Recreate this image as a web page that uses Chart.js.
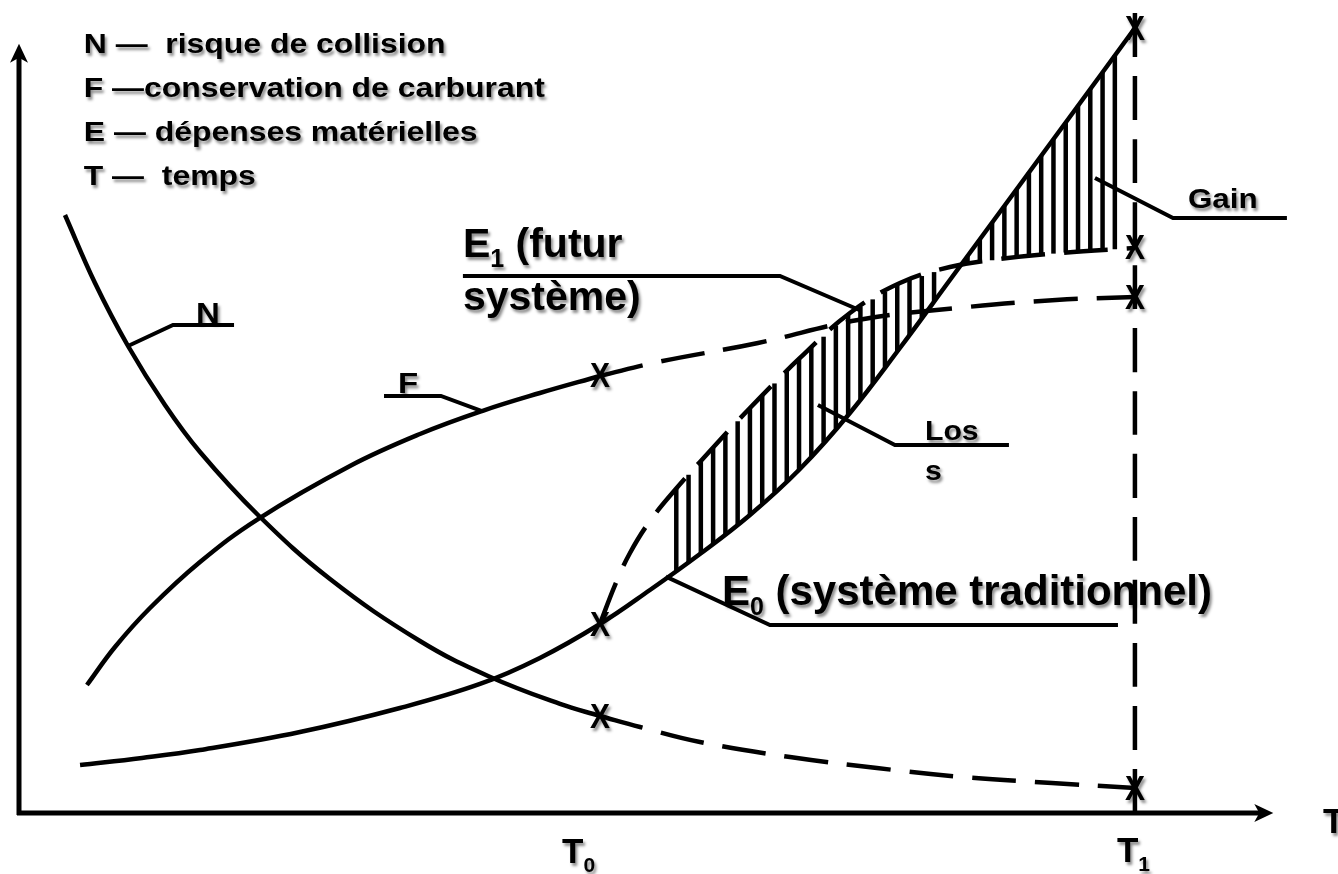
<!DOCTYPE html>
<html lang="fr">
<head>
<meta charset="utf-8">
<title>Risque, carburant, dépenses</title>
<script src="https://cdn.jsdelivr.net/npm/chart.js@4/dist/chart.umd.min.js"></script>
<style>
  html, body { margin: 0; padding: 0; background: #fff; }
  #wrap { width: 1338px; height: 874px; }
</style>
</head>
<body>
<div id="wrap"><canvas id="chart" width="1338" height="874"></canvas></div>
<script>
"use strict";

// temps (axe T) : T0 et T1
const T0 = 52.06;
const T1 = 100;

// N - risque de collision
const nSolidX = [4.12, 6.81, 9.77, 13.08, 16.22, 21.42, 27.87, 35.93, 42.03, 48.48, 52.06];
const nSolidY = [75.41, 66.83, 58.89, 51.45, 45.52, 37.58, 29.51, 21.69, 17.28, 13.75, 12.23];
const nDashX = [52.06, 55.65, 61.02, 69.09, 76.88, 84.50, 92.56, 100];
const nDashY = [12.23, 10.84, 8.95, 7.06, 5.67, 4.54, 3.78, 3.15];

// F - conservation de carburant
const fSolidX = [6.09, 8.60, 11.74, 16.22, 21.42, 29.66, 35.93, 41.49, 46.68, 52.06];
const fSolidY = [16.14, 20.93, 25.85, 31.65, 37.07, 43.76, 47.79, 50.69, 52.96, 55.11];
const fDashX = [52.06, 57.35, 66.22, 75.18, 84.05, 92.92, 100];
const fDashY = [55.11, 56.90, 59.27, 62.17, 63.68, 64.69, 65.07];

// E0 - système traditionnel
const e0X = [5.47, 11.02, 16.22, 25.18, 34.14, 41.31, 46.68, 52.06, 56.54, 61.02, 65.50, 69.98, 74.46, 78.94, 83.42, 87.90, 92.38, 96.86, 100];
const e0Y = [6.05, 6.94, 7.94, 10.21, 13.24, 16.27, 19.55, 23.83, 28.12, 32.66, 37.58, 43.38, 50.44, 58.64, 67.21, 75.79, 84.36, 92.94, 98.99];

// E1 - futur système
const e1X = [52.06, 53.41, 54.75, 56.54, 58.78, 61.02, 65.50, 69.98, 74.46, 78.94, 83.42, 87.90, 93.28, 100];
const e1Y = [23.83, 28.75, 32.79, 36.82, 40.73, 44.26, 51.07, 57.38, 63.05, 66.83, 68.85, 69.86, 70.62, 71.25];

// repères X sur T0 et T1
const markX = [T0, T0, T0, T1, T1, T1, T1];
const markY = [55.11, 23.83, 12.23, 98.99, 71.25, 65.07, 3.15];

// zones hachurées (perte puis gain)
const lossRange = [58.9, 83.0];
const gainRange = [85.0, 99.0];

const legendLines = [
    "N \u2014  risque de collision",
    "F \u2014conservation de carburant",
    "E \u2014 dépenses matérielles",
    "T \u2014  temps"
];

const FONT = '"Liberation Sans", Arial, sans-serif';

function pts(xs, ys) {
    return xs.map((x, i) => ({ x: x, y: ys[i] }));
}

function interp(xs, ys, x) {
    for (let i = 0; i < xs.length - 1; i++) {
        if (x >= xs[i] && x <= xs[i + 1]) {
            const t = (x - xs[i]) / (xs[i + 1] - xs[i]);
            return ys[i] + t * (ys[i + 1] - ys[i]);
        }
    }
    return ys[ys.length - 1];
}

// texte gras avec ombre, parties en indice possibles
function drawText(ctx, parts, px, py, size, sx) {
    ctx.save();
    ctx.translate(px, py);
    ctx.scale(sx, 1);
    ctx.fillStyle = "#000";
    ctx.textAlign = "left";
    ctx.textBaseline = "alphabetic";
    ctx.shadowColor = "rgba(0,0,0,0.45)";
    ctx.shadowOffsetX = 2;
    ctx.shadowOffsetY = 3;
    ctx.shadowBlur = 3;
    let x = 0;
    parts.forEach(p => {
        const fs = p.sub ? Math.round(size * 0.6) : size;
        ctx.font = "bold " + fs + "px " + FONT;
        ctx.fillText(p.t, x, p.sub ? size * 0.25 : 0);
        x += ctx.measureText(p.t).width;
    });
    ctx.restore();
}

const diagram = {
    id: "diagram",
    beforeDatasetsDraw(chart) {
        const ctx = chart.ctx;
        const xs = chart.scales.x, ys = chart.scales.y;
        ctx.save();
        ctx.strokeStyle = "#000";
        ctx.lineWidth = 4.5;
        [lossRange, gainRange].forEach(r => {
            for (let x = r[0]; x <= r[1] + 0.01; x += 1.1) {
                const px = xs.getPixelForValue(x);
                ctx.beginPath();
                ctx.moveTo(px, ys.getPixelForValue(interp(e0X, e0Y, x)));
                ctx.lineTo(px, ys.getPixelForValue(interp(e1X, e1Y, x)));
                ctx.stroke();
            }
        });
        ctx.restore();
    },
    afterDatasetsDraw(chart) {
        const ctx = chart.ctx;
        const xs = chart.scales.x, ys = chart.scales.y;
        const X = v => xs.getPixelForValue(v);
        const Y = v => ys.getPixelForValue(v);

        ctx.save();
        ctx.strokeStyle = "#000";
        ctx.fillStyle = "#000";

        // axes
        const ox = X(0), oy = Y(0);
        const tipY = Y(97), tipX = X(112.4);
        ctx.lineWidth = 5;
        ctx.beginPath();
        ctx.moveTo(ox, oy + 2);
        ctx.lineTo(ox, tipY + 10);
        ctx.moveTo(ox - 2, oy);
        ctx.lineTo(tipX - 10, oy);
        ctx.stroke();
        ctx.beginPath();
        ctx.moveTo(ox, tipY);
        ctx.lineTo(ox - 9, tipY + 19);
        ctx.lineTo(ox, tipY + 14);
        ctx.lineTo(ox + 9, tipY + 19);
        ctx.closePath();
        ctx.fill();
        ctx.beginPath();
        ctx.moveTo(tipX, oy);
        ctx.lineTo(tipX - 19, oy - 9);
        ctx.lineTo(tipX - 14, oy);
        ctx.lineTo(tipX - 19, oy + 9);
        ctx.closePath();
        ctx.fill();

        // lignes de rappel
        const leaders = [
            [[9.77, 58.89], [13.80, 61.54], [19.27, 61.54]],
            [[41.49, 50.69], [37.81, 52.59], [32.71, 52.59]],
            [[75.36, 63.4], [68.19, 67.72], [39.78, 67.72]],
            [[71.59, 51.45], [78.49, 46.41], [88.71, 46.41]],
            [[96.42, 80.08], [103.41, 75.03], [113.62, 75.03]],
            [[57.97, 29.80], [67.29, 23.71], [98.48, 23.71]]
        ];
        ctx.lineWidth = 4;
        leaders.forEach(l => {
            ctx.beginPath();
            l.forEach((p, i) => i ? ctx.lineTo(X(p[0]), Y(p[1])) : ctx.moveTo(X(p[0]), Y(p[1])));
            ctx.stroke();
        });
        ctx.restore();

        // légende
        legendLines.forEach((t, i) => {
            drawText(ctx, [{ t: t }], X(5.8), Y(95.8 - i * 5.55), 28, 1.14);
        });

        // étiquettes
        const labels = [
            { p: [{ t: "N" }], x: 15.86, y: 61.79, s: 30, sx: 1.1 },
            { p: [{ t: "F" }], x: 33.96, y: 52.96, s: 30, sx: 1.1 },
            { p: [{ t: "E" }, { t: "1", sub: true }, { t: " (futur" }], x: 39.78, y: 70.11, s: 41, sx: 1 },
            { p: [{ t: "système)" }], x: 39.78, y: 63.43, s: 41, sx: 1 },
            { p: [{ t: "E" }, { t: "0", sub: true }, { t: " (système traditionnel)" }], x: 62.99, y: 26.23, s: 42, sx: 1 },
            { p: [{ t: "Los" }], x: 81.18, y: 47.04, s: 28, sx: 1.08 },
            { p: [{ t: "s" }], x: 81.18, y: 41.99, s: 28, sx: 1.08 },
            { p: [{ t: "Gain" }], x: 104.75, y: 76.29, s: 28, sx: 1.12 },
            { p: [{ t: "T" }, { t: "0", sub: true }], x: 48.66, y: -6.31, s: 35, sx: 1 },
            { p: [{ t: "T" }, { t: "1", sub: true }], x: 98.39, y: -6.18, s: 35, sx: 1 },
            { p: [{ t: "T" }], x: 116.85, y: -2.52, s: 35, sx: 1 }
        ];
        labels.forEach(l => drawText(ctx, l.p, X(l.x), Y(l.y), l.s, l.sx));

        // repères X
        ctx.save();
        ctx.fillStyle = "#000";
        ctx.textAlign = "center";
        ctx.textBaseline = "middle";
        ctx.font = "bold 30px " + FONT;
        ctx.shadowColor = "rgba(0,0,0,0.45)";
        ctx.shadowOffsetX = 2;
        ctx.shadowOffsetY = 3;
        ctx.shadowBlur = 3;
        markX.forEach((x, i) => {
            ctx.save();
            ctx.translate(X(x), Y(markY[i]) + 2);
            ctx.scale(1, 1.15);
            ctx.fillText("X", 0, 0);
            ctx.restore();
        });
        ctx.restore();
    }
};

function line(label, xs, ys, dashed) {
    return {
        label: label,
        data: pts(xs, ys),
        showLine: true,
        borderColor: "#000",
        borderWidth: 4.5,
        borderDash: dashed ? [44, 19] : [],
        pointRadius: 0,
        fill: false,
        clip: false,
        tension: 0.4
    };
}

const ctx = document.getElementById("chart").getContext("2d");
new Chart(ctx, {
    type: "scatter",
    data: {
        datasets: [
            line("N", nSolidX, nSolidY, false),
            line("N (prévision)", nDashX, nDashY, true),
            line("F", fSolidX, fSolidY, false),
            line("F (prévision)", fDashX, fDashY, true),
            line("E0", e0X, e0Y, false),
            line("E1", e1X, e1Y, true),
            line("T1", [T1, T1], [0, 101], true)
        ]
    },
    options: {
        responsive: false,
        animation: false,
        devicePixelRatio: 1,
        layout: {
            padding: { left: 19, right: 58, top: 20, bottom: 61 }
        },
        scales: {
            x: { type: "linear", min: 0, max: 113, display: false },
            y: { type: "linear", min: 0, max: 100, display: false }
        },
        plugins: {
            legend: { display: false },
            tooltip: { enabled: false }
        }
    },
    plugins: [diagram]
});
</script>
</body>
</html>
